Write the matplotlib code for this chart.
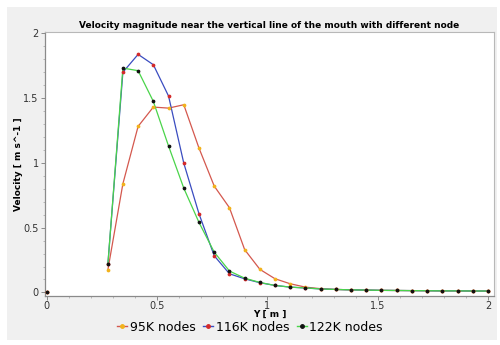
import matplotlib
matplotlib.use("Agg")
import matplotlib.pyplot as plt
from matplotlib.patches import Rectangle
from matplotlib.ticker import MultipleLocator

# sample positions along the line (first sample sits at the wall, y = 0)
y_pos = [0.0, 0.277, 0.345, 0.414, 0.483, 0.552, 0.621, 0.690, 0.759, 0.828, 0.897,
         0.966, 1.034, 1.103, 1.172, 1.241, 1.310, 1.379, 1.448, 1.517, 1.586,
         1.655, 1.724, 1.793, 1.862, 1.931, 2.000]

vel_95k = [0.0, 0.175, 0.839, 1.282, 1.431, 1.423, 1.449, 1.114, 0.821, 0.654, 0.330,
           0.178, 0.106, 0.067, 0.041, 0.029, 0.023, 0.020, 0.018, 0.016, 0.015,
           0.014, 0.013, 0.012, 0.012, 0.011, 0.011]
vel_116k = [0.0, 0.220, 1.700, 1.838, 1.758, 1.516, 0.998, 0.607, 0.283, 0.144, 0.105,
            0.075, 0.054, 0.041, 0.034, 0.027, 0.023, 0.020, 0.018, 0.016, 0.015,
            0.014, 0.013, 0.012, 0.012, 0.011, 0.011]
vel_122k = [0.0, 0.216, 1.732, 1.712, 1.475, 1.130, 0.805, 0.540, 0.311, 0.165, 0.110,
            0.077, 0.054, 0.041, 0.035, 0.027, 0.023, 0.020, 0.018, 0.016, 0.015,
            0.014, 0.013, 0.012, 0.012, 0.011, 0.011]

series = [
    ("95K nodes", vel_95k, "#d4584e", "#f2b21c"),
    ("116K nodes", vel_116k, "#3a4cc0", "#d42a2a"),
    ("122K nodes", vel_122k, "#4ad44a", "#111111"),
]

fig = plt.figure(figsize=(5, 3.45), dpi=100)
fig.patch.set_facecolor("white")
# grey panel behind the plot, drawn under the axes
fig.patches.append(Rectangle((7 / 500, 5 / 345), 490 / 500, 333 / 345,
                             transform=fig.transFigure, facecolor="#f0f0f0",
                             edgecolor="none", zorder=-10))

ax = fig.add_axes([0.09, 0.143, 0.898, 0.764])
ax.set_facecolor("white")

handles = []
for label, vals, line_c, mark_c in series:
    # the wall sample is not joined to the rest of the profile
    ax.plot(y_pos[1:], vals[1:], color=line_c, lw=0.9, zorder=2)
    ax.plot(y_pos, vals, ls="none", marker="o", ms=1.7, color=mark_c, zorder=3)
    h, = ax.plot([], [], color=line_c, lw=1.0, marker="o", ms=2.5,
                 mfc=mark_c, mec=mark_c)
    handles.append(h)

ax.set_xlim(-0.008, 2.027)
ax.set_ylim(-0.025, 2.01)
ax.xaxis.set_major_locator(MultipleLocator(0.5))
ax.xaxis.set_minor_locator(MultipleLocator(0.1))
ax.yaxis.set_major_locator(MultipleLocator(0.5))
ax.yaxis.set_minor_locator(MultipleLocator(0.1))
ax.xaxis.set_major_formatter(lambda v, p: f"{v:g}")
ax.yaxis.set_major_formatter(lambda v, p: f"{v:g}")

ax.tick_params(which="major", direction="out", length=3, width=0.7, pad=1.5,
               colors="#8a8a8a", labelcolor="#333333", labelsize=7)
ax.tick_params(axis="x", which="major", pad=1)
ax.tick_params(which="minor", direction="out", length=1.5, width=0.6,
               colors="#b0b0b0")
for side in ["left", "bottom"]:
    ax.spines[side].set_color("#8a8a8a")
    ax.spines[side].set_linewidth(0.9)
for side in ["top", "right"]:
    ax.spines[side].set_color("#b8b8b8")
    ax.spines[side].set_linewidth(0.8)

ax.set_title("Velocity magnitude near the vertical line of the mouth with different node",
             fontsize=6.5, fontweight="bold", pad=3)
ax.set_xlabel("Y [ m ]", fontsize=6.5, fontweight="bold", labelpad=-1)
ax.set_ylabel("Velocity [ m s^-1 ]", fontsize=6.5, fontweight="bold", labelpad=0)

fig.legend(handles, [s[0] for s in series], loc="center", bbox_to_anchor=(0.5, 0.052),
           ncol=3, frameon=False, fontsize=9, handlelength=0.8, handletextpad=0.2,
           columnspacing=0.6)

fig.savefig("out.png", dpi=100)
